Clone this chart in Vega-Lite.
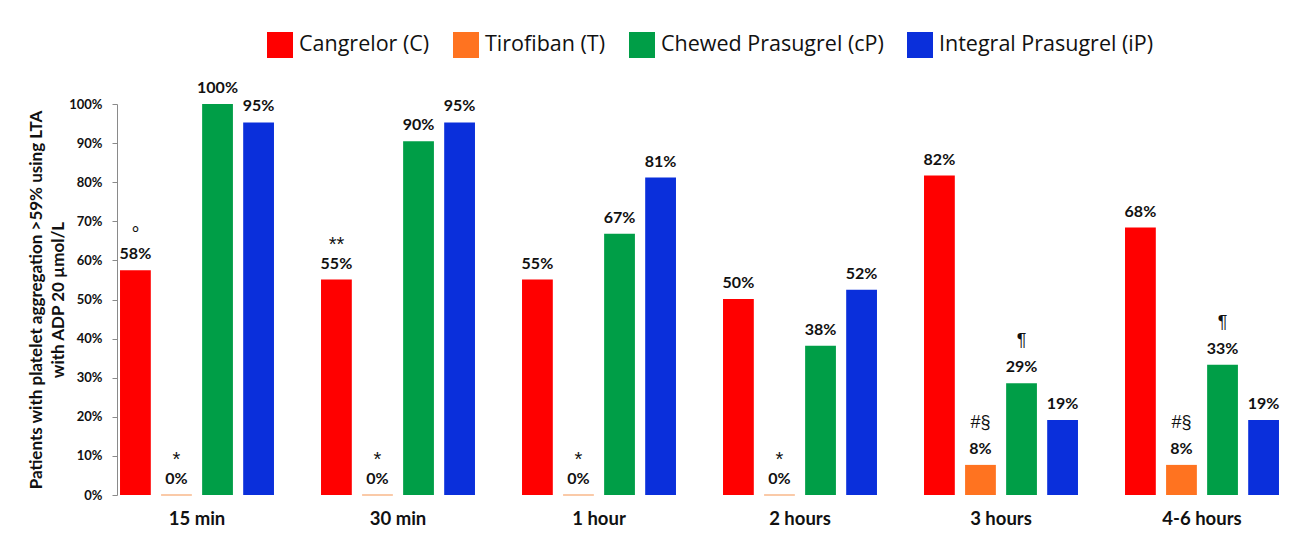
{
  "$schema": "https://vega.github.io/schema/vega-lite/v6.json",
  "width": 1165,
  "height": 391,
  "autosize": {"type": "none"},
  "padding": {"left": 117, "top": 104, "right": 18, "bottom": 62},
  "background": "white",
  "config": {"view": {"stroke": null}, "font": "Lato", "text": {"font": "Lato"}},
  "data": {
    "values": [
      {"time": "15 min", "drug": "Cangrelor (C)", "value": 57.5, "label": "58%", "note": "°"},
      {"time": "15 min", "drug": "Tirofiban (T)", "value": 0, "label": "0%", "note": "*"},
      {"time": "15 min", "drug": "Chewed Prasugrel (cP)", "value": 100, "label": "100%", "note": ""},
      {"time": "15 min", "drug": "Integral Prasugrel (iP)", "value": 95.3, "label": "95%", "note": ""},
      {"time": "30 min", "drug": "Cangrelor (C)", "value": 55.1, "label": "55%", "note": "**"},
      {"time": "30 min", "drug": "Tirofiban (T)", "value": 0, "label": "0%", "note": "*"},
      {"time": "30 min", "drug": "Chewed Prasugrel (cP)", "value": 90.5, "label": "90%", "note": ""},
      {"time": "30 min", "drug": "Integral Prasugrel (iP)", "value": 95.3, "label": "95%", "note": ""},
      {"time": "1 hour", "drug": "Cangrelor (C)", "value": 55.1, "label": "55%", "note": ""},
      {"time": "1 hour", "drug": "Tirofiban (T)", "value": 0, "label": "0%", "note": "*"},
      {"time": "1 hour", "drug": "Chewed Prasugrel (cP)", "value": 66.8, "label": "67%", "note": ""},
      {"time": "1 hour", "drug": "Integral Prasugrel (iP)", "value": 81.2, "label": "81%", "note": ""},
      {"time": "2 hours", "drug": "Cangrelor (C)", "value": 50.1, "label": "50%", "note": ""},
      {"time": "2 hours", "drug": "Tirofiban (T)", "value": 0, "label": "0%", "note": "*"},
      {"time": "2 hours", "drug": "Chewed Prasugrel (cP)", "value": 38.2, "label": "38%", "note": ""},
      {"time": "2 hours", "drug": "Integral Prasugrel (iP)", "value": 52.5, "label": "52%", "note": ""},
      {"time": "3 hours", "drug": "Cangrelor (C)", "value": 81.7, "label": "82%", "note": ""},
      {"time": "3 hours", "drug": "Tirofiban (T)", "value": 7.7, "label": "8%", "note": "#§"},
      {"time": "3 hours", "drug": "Chewed Prasugrel (cP)", "value": 28.6, "label": "29%", "note": "¶"},
      {"time": "3 hours", "drug": "Integral Prasugrel (iP)", "value": 19.2, "label": "19%", "note": ""},
      {"time": "4-6 hours", "drug": "Cangrelor (C)", "value": 68.4, "label": "68%", "note": ""},
      {"time": "4-6 hours", "drug": "Tirofiban (T)", "value": 7.7, "label": "8%", "note": "#§"},
      {"time": "4-6 hours", "drug": "Chewed Prasugrel (cP)", "value": 33.3, "label": "33%", "note": "¶"},
      {"time": "4-6 hours", "drug": "Integral Prasugrel (iP)", "value": 19.2, "label": "19%", "note": ""}
    ]
  },
  "encoding": {
    "x": {
      "field": "time",
      "type": "nominal",
      "sort": ["15 min", "30 min", "1 hour", "2 hours", "3 hours", "4-6 hours"],
      "scale": {"paddingInner": 0.234, "paddingOuter": 0.015},
      "axis": {
        "title": null,
        "labelAngle": 0,
        "domain": false,
        "ticks": false,
        "labelFont": "Lato",
        "labelFontWeight": "bold",
        "labelFontSize": 18.5,
        "labelPadding": 14,
        "labelColor": "#111111"
      }
    },
    "xOffset": {
      "field": "drug",
      "type": "nominal",
      "sort": ["Cangrelor (C)", "Tirofiban (T)", "Chewed Prasugrel (cP)", "Integral Prasugrel (iP)"],
      "scale": {"paddingInner": 0.25, "paddingOuter": 0}
    },
    "y": {
      "field": "value",
      "type": "quantitative",
      "scale": {"domain": [0, 100], "nice": false},
      "axis": {
        "values": [0, 10, 20, 30, 40, 50, 60, 70, 80, 90, 100],
        "labelExpr": "datum.value + '%'",
        "grid": false,
        "domainColor": "#8a8a8a",
        "tickColor": "#8a8a8a",
        "tickSize": 5,
        "labelFont": "Lato",
        "labelFontSize": 13,
        "labelFontWeight": "bold",
        "labelColor": "#111111",
        "labelPadding": 10,
        "title": ["Patients with platelet aggregation >59% using LTA", "with ADP 20 µmol/L"],
        "titleFont": "Lato",
        "titleFontSize": 17,
        "titleFontWeight": "bold",
        "titleColor": "#111111",
        "titleLineHeight": 22,
        "titlePadding": 1
      }
    }
  },
  "layer": [
    {
      "mark": {"type": "bar", "strokeWidth": 1.5},
      "encoding": {
        "color": {
          "field": "drug",
          "type": "nominal",
          "sort": ["Cangrelor (C)", "Tirofiban (T)", "Chewed Prasugrel (cP)", "Integral Prasugrel (iP)"],
          "scale": {
            "domain": ["Cangrelor (C)", "Tirofiban (T)", "Chewed Prasugrel (cP)", "Integral Prasugrel (iP)"],
            "range": ["#FF0000", "#FF7320", "#009E47", "#0A2FDB"]
          },
          "legend": {
            "title": null,
            "orient": "none",
            "legendX": 150,
            "legendY": -72,
            "direction": "horizontal",
            "symbolType": "square",
            "symbolSize": 676,
            "symbolStrokeWidth": 0,
            "symbolOpacity": 1,
            "labelFont": "Open Sans",
            "labelFontSize": 21.5,
            "labelColor": "#111111",
            "labelOffset": 6,
            "columnPadding": 23,
            "labelLimit": 400
          }
        },
        "stroke": {
          "condition": {"test": "datum.value === 0", "value": "#F9B98C"},
          "value": "transparent"
        }
      }
    },
    {
      "mark": {"type": "text", "baseline": "alphabetic", "dy": -11, "fontWeight": "bold", "fontSize": 16, "color": "#111111", "font": "Lato"},
      "encoding": {"text": {"field": "label", "type": "nominal"}}
    },
    {
      "transform": [{"filter": "datum.note === '*' || datum.note === '**' || datum.note === '°'"}],
      "mark": {"type": "text", "baseline": "alphabetic", "dy": -29, "fontSize": 20, "color": "#111111", "font": "Liberation Sans"},
      "encoding": {"text": {"field": "note", "type": "nominal"}}
    },
    {
      "transform": [{"filter": "datum.note === '#§' || datum.note === '¶'"}],
      "mark": {"type": "text", "baseline": "alphabetic", "dy": -37, "fontSize": 18, "color": "#111111", "font": "Liberation Sans"},
      "encoding": {"text": {"field": "note", "type": "nominal"}}
    }
  ]
}
